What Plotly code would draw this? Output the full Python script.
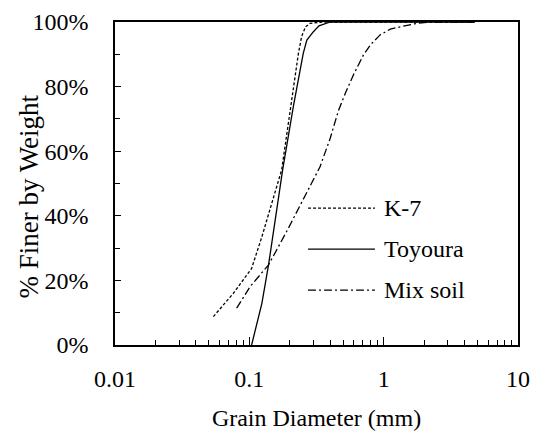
import plotly.graph_objects as go

# ---- data ----
k7_d = [0.054, 0.076, 0.104, 0.124, 0.147, 0.174, 0.207, 0.232, 0.245, 0.262, 0.283, 0.35, 4.75]
k7_p = [8.8, 16, 23.7, 33.5, 43.9, 54.2, 76, 90.3, 95.5, 98.5, 99.6, 100, 100]

toy_d = [0.104, 0.124, 0.139, 0.155, 0.177, 0.213, 0.252, 0.268, 0.30, 0.33, 0.40, 4.75]
toy_p = [0, 12.9, 24.8, 38.7, 54.2, 74, 90.3, 94.4, 97, 98.8, 100, 100]

mix_d = [0.0805, 0.101, 0.139, 0.195, 0.263, 0.336, 0.40, 0.46, 0.525, 0.595, 0.707,
         0.80, 0.94, 1.12, 1.4, 1.77, 2.2, 4.75]
mix_p = [11.4, 18, 24.8, 36.1, 46.6, 55.2, 64, 72.5, 78.5, 83.6, 89.8,
         93, 96, 97.8, 98.7, 99.6, 100, 100]

series_names = ["K-7", "Toyoura", "Mix soil"]
x_tick_vals = [0.01, 0.1, 1, 10]
x_tick_text = ["0.01", "0.1", "1", "10"]
y_tick_vals = [0, 20, 40, 60, 80, 100]
y_tick_text = ["0%", "20%", "40%", "60%", "80%", "100%"]

FONT = "Liberation Serif, Times New Roman, serif"
dashes = ["3px,2px", "solid", "8px,3px,2px,3px"]
data = [(k7_d, k7_p), (toy_d, toy_p), (mix_d, mix_p)]

fig = go.Figure()
for (d, p), name, dash in zip(data, series_names, dashes):
    fig.add_trace(go.Scatter(x=d, y=p, mode="lines", name=name,
                             line=dict(color="black", width=1.3, dash=dash),
                             showlegend=False))

# hand-drawn legend (long line samples like the reference)
leg_y = [0.424, 0.297, 0.170]
for name, dash, yy in zip(series_names, dashes, leg_y):
    fig.add_shape(type="line", xref="paper", yref="paper", x0=0.479, x1=0.645,
                  y0=yy, y1=yy, line=dict(color="black", width=1.3, dash=dash))
    fig.add_annotation(xref="paper", yref="paper", x=0.662, y=yy, text=name,
                       showarrow=False, xanchor="left", yanchor="middle",
                       font=dict(family=FONT, size=24, color="black"))

# y-axis title sits between the tick labels, as in the reference
fig.add_annotation(xref="paper", yref="paper", x=-0.213, y=0.46, text="% Finer by Weight",
                   textangle=-90, showarrow=False, xanchor="center", yanchor="middle",
                   font=dict(family=FONT, size=27, color="black"))

# the page has an 8px body margin: figure is 8px smaller so the plot lands in place
fig.update_layout(
    width=532, height=423,
    margin=dict(l=107, r=22, t=14, b=86, autoexpand=False),
    paper_bgcolor="white", plot_bgcolor="white",
    font=dict(family=FONT, size=24, color="black"),
)
fig.update_xaxes(
    type="log", range=[-2, 1], automargin=False,
    tickvals=x_tick_vals, ticktext=x_tick_text,
    ticks="inside", ticklen=8, tickwidth=1.3, tickcolor="black",
    minor=dict(ticks="inside", ticklen=5, tickwidth=1, tickcolor="black",
               dtick="D1", showgrid=False),
    showline=True, linecolor="black", linewidth=1.5, mirror=True,
    showgrid=False, zeroline=False,
    ticklabelstandoff=11,
    title=dict(text="Grain Diameter (mm)", font=dict(family=FONT, size=24), standoff=33),
)
fig.update_yaxes(
    range=[0, 100], tickvals=y_tick_vals, ticktext=y_tick_text, automargin=False,
    ticks="inside", ticklen=6, tickwidth=1.3, tickcolor="black",
    minor=dict(ticks="inside", ticklen=5, tickwidth=1, tickcolor="black",
               dtick=10, showgrid=False),
    showline=True, linecolor="black", linewidth=1.5, mirror=True,
    showgrid=False, zeroline=False,
    ticklabelstandoff=20,
)

fig.write_html("out.html")
